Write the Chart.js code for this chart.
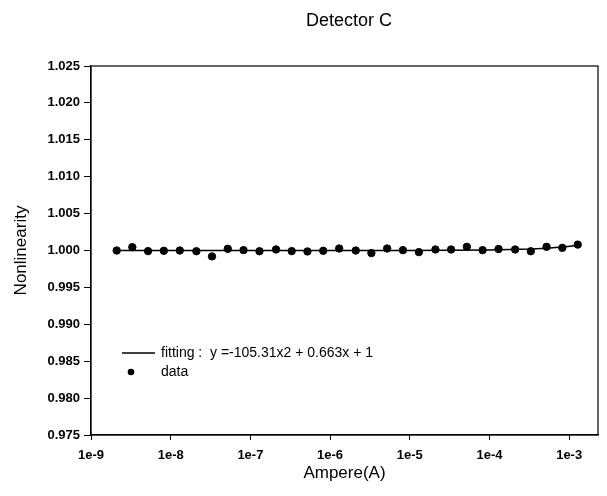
<!DOCTYPE html>
<html>
<head>
<meta charset="utf-8">
<script src="https://cdn.jsdelivr.net/npm/chart.js@4"></script>
<style>
  html, body { margin: 0; padding: 0; background: #fff; }
  #wrap { width: 607px; height: 496px; }
</style>
</head>
<body>
<div id="wrap"><canvas id="myChart" width="607" height="496"></canvas></div>
<script>
// current (A) of each measurement
const ampere = [
  2.1e-9, 3.3e-9, 5.2e-9, 8.2e-9,
  1.3e-8, 2.1e-8, 3.3e-8, 5.2e-8, 8.2e-8,
  1.3e-7, 2.1e-7, 3.3e-7, 5.2e-7, 8.2e-7,
  1.3e-6, 2.1e-6, 3.3e-6, 5.2e-6, 8.2e-6,
  1.3e-5, 2.1e-5, 3.3e-5, 5.2e-5, 8.2e-5,
  1.3e-4, 2.1e-4, 3.3e-4, 5.2e-4, 8.2e-4,
  1.28e-3
];
const nonlinearity = [
  1.0000, 1.00045, 0.99992, 0.99996,
  1.0000, 0.9999, 0.9992, 1.00023, 1.00005,
  0.9999, 1.00014, 0.99992, 0.99987, 0.99996,
  1.00027, 1.0000, 0.99965, 1.00027, 1.00005,
  0.99978, 1.00014, 1.00014, 1.0005, 1.00005,
  1.0002, 1.00014, 0.9999, 1.0005, 1.00036,
  1.0008
];
// fitted curve
const fitX = [2.1e-9, 1e-6, 1e-5, 1e-4, 3.3e-4, 5.2e-4, 8.2e-4, 1.28e-3];
const fitY = [1.0000, 1.0000, 1.00001, 1.00007, 1.0002, 1.00032, 1.00047, 1.00068];

const xTicks = [1e-9, 1e-8, 1e-7, 1e-6, 1e-5, 1e-4, 1e-3];
const yMin = 0.975, yMax = 1.025, yStep = 0.005;

const titleText = "Detector C";
const fitLabel = "fitting :  y =-105.31x2 + 0.663x + 1";
const dataLabel = "data";

const font = "'Liberation Sans', Arial, sans-serif";

const framePlugin = {
  id: "frame",
  afterDraw(chart) {
    const { ctx, chartArea: a } = chart;
    ctx.save();
    ctx.strokeStyle = "#000";
    ctx.lineWidth = 1.2;
    ctx.strokeRect(a.left, a.top, a.right - a.left, a.bottom - a.top);

    // title
    ctx.fillStyle = "#000";
    ctx.font = "18px " + font;
    ctx.textAlign = "center";
    ctx.textBaseline = "middle";
    ctx.fillText(titleText, 349, 21);

    // legend
    ctx.font = "14px " + font;
    ctx.textAlign = "left";
    ctx.beginPath();
    ctx.lineWidth = 1.5;
    ctx.moveTo(122, 353);
    ctx.lineTo(155, 353);
    ctx.stroke();
    ctx.fillText(chart.data.datasets[0].label, 161, 353);
    ctx.beginPath();
    ctx.arc(131, 372, 3.3, 0, Math.PI * 2);
    ctx.fill();
    ctx.fillText(chart.data.datasets[1].label, 161, 372);
    ctx.restore();
  }
};

const config = {
  type: "scatter",
  data: {
    datasets: [
      {
        label: fitLabel,
        data: fitX.map((x, i) => ({ x: x, y: fitY[i] })),
        showLine: true,
        borderColor: "#000",
        borderWidth: 1.5,
        pointRadius: 0,
        fill: false
      },
      {
        label: dataLabel,
        data: ampere.map((x, i) => ({ x: x, y: nonlinearity[i] })),
        backgroundColor: "#000",
        borderColor: "#000",
        pointRadius: 3.7,
        pointHoverRadius: 3.7
      }
    ]
  },
  options: {
    responsive: false,
    animation: false,
    layout: { padding: { top: 66, right: 9, left: 0, bottom: 0 } },
    plugins: {
      legend: { display: false },
      tooltip: { enabled: false }
    },
    scales: {
      x: {
        type: "logarithmic",
        min: 1e-9,
        max: 2.3e-3,
        afterBuildTicks: (scale) => {
          scale.ticks = xTicks.map((v) => ({ value: v }));
        },
        afterFit: (scale) => { scale.height = 61; },
        ticks: {
          color: "#000",
          font: { family: font, size: 13, weight: "bold" },
          padding: 8,
          maxRotation: 0,
          autoSkip: false,
          callback: (v) => "1e" + Math.round(Math.log10(v))
        },
        grid: { display: true, drawOnChartArea: false, color: "#000", tickLength: 5, tickWidth: 1 },
        border: { display: true, color: "#000", width: 1.2 },
        title: {
          display: true,
          text: "Ampere(A)",
          color: "#000",
          font: { family: font, size: 17 },
          padding: { top: 4, bottom: 12 }
        }
      },
      y: {
        min: yMin,
        max: yMax,
        afterFit: (scale) => { scale.width = 91; },
        ticks: {
          stepSize: yStep,
          color: "#000",
          font: { family: font, size: 13, weight: "bold" },
          padding: 4,
          callback: (v) => v.toFixed(3)
        },
        grid: { display: true, drawOnChartArea: false, color: "#000", tickLength: 7, tickWidth: 1 },
        border: { display: true, color: "#000", width: 1.2 },
        title: {
          display: true,
          text: "Nonlinearity",
          color: "#000",
          font: { family: font, size: 17 },
          padding: { top: 11, bottom: 4 }
        }
      }
    }
  },
  plugins: [framePlugin]
};

const myChart = document.getElementById("myChart");
const chart = new Chart(myChart, config);
</script>
</body>
</html>
